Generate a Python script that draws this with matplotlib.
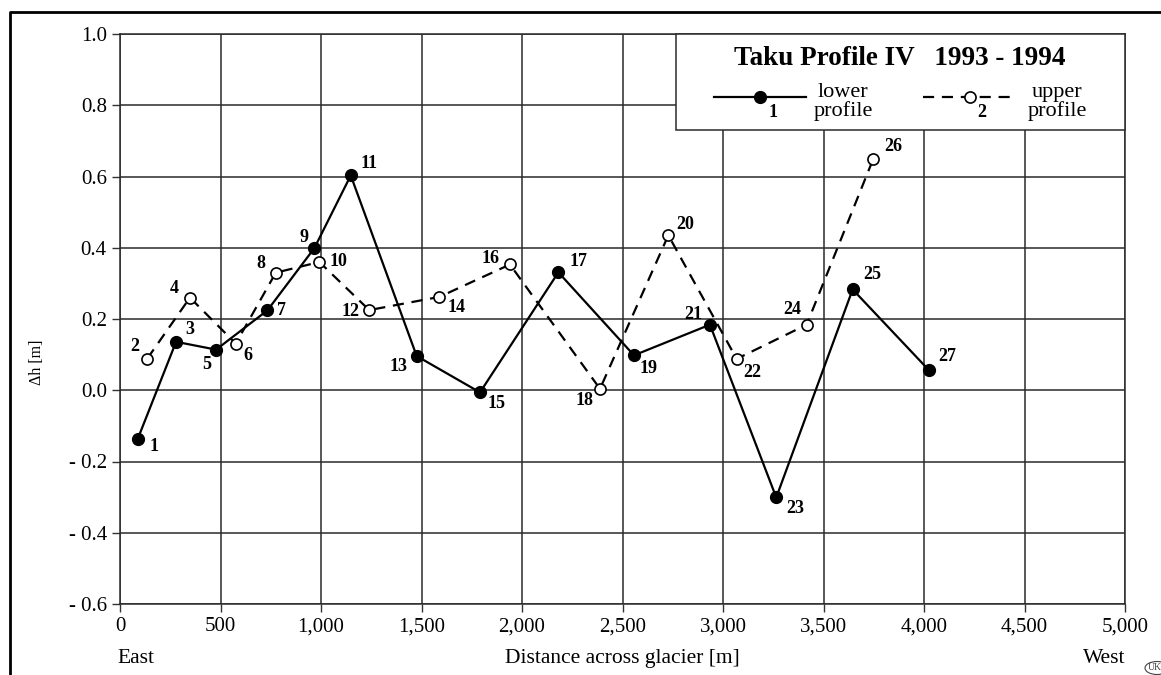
import matplotlib
matplotlib.use("Agg")
import matplotlib.pyplot as plt
from matplotlib.patches import Rectangle, Ellipse
from matplotlib.lines import Line2D
from matplotlib.ticker import FuncFormatter

plt.rcParams['font.family'] = ['Liberation Serif', 'DejaVu Serif']

# Stake positions across the glacier [m] and surface change [m]
lower_ids = [1, 3, 5, 7, 9, 11, 13, 15, 17, 19, 21, 23, 25, 27]
lower_x = [88, 279, 478, 733, 967, 1148, 1476, 1791, 2181, 2557, 2935, 3265, 3645, 4025]
lower_dh = [-0.137, 0.136, 0.114, 0.224, 0.399, 0.603, 0.096, -0.006, 0.331, 0.098,
            0.184, -0.301, 0.283, 0.056]

upper_ids = [2, 4, 6, 8, 10, 12, 14, 16, 18, 20, 22, 24, 26]
upper_x = [136, 348, 576, 775, 992, 1240, 1589, 1940, 2388, 2728, 3068, 3416, 3748]
upper_dh = [0.089, 0.260, 0.131, 0.330, 0.360, 0.225, 0.262, 0.353, 0.004, 0.435,
            0.088, 0.184, 0.650]

x_ticks = list(range(0, 5001, 500))
y_ticks = [-0.6, -0.4, -0.2, 0.0, 0.2, 0.4, 0.6, 0.8, 1.0]

# Label offsets (pixels, right / down) for each stake number
label_offsets = {
    1: (16, 7), 2: (-13, -12), 3: (14, -12), 4: (-16, -9), 5: (-9, 15),
    6: (12, 12), 7: (14, 0), 8: (-15, -9), 9: (-10, -11), 10: (19, 0),
    11: (18, -12), 12: (-19, 1), 13: (-18, 10), 14: (17, 11), 15: (17, 11),
    16: (-19, -6), 17: (20, -11), 18: (-15, 12), 19: (15, 13), 20: (17, -11),
    21: (-17, -10), 22: (16, 14), 23: (19, 11), 24: (-14, -15), 25: (20, -15),
    26: (20, -12), 27: (18, -14),
}

W, H = 1161, 675
fig = plt.figure(figsize=(W / 100, H / 100), dpi=100)


def fx(px):
    return px / W


def fy(py):
    return 1 - py / H


ax = fig.add_axes([fx(120), fy(604), (1125 - 120) / W, (604 - 34) / H])
ax.set_xlim(0, 5000)
ax.set_ylim(-0.6, 1.0)
ax.set_xticks(x_ticks)
ax.set_yticks(y_ticks)
ax.xaxis.set_major_formatter(FuncFormatter(lambda v, p: f"{int(v):,}"))
ax.yaxis.set_major_formatter(
    FuncFormatter(lambda v, p: f"- {abs(v):.1f}" if v < -1e-9 else f"{abs(v):.1f}"))
ax.tick_params(axis='both', direction='out', length=5.5, width=1.0, color='#333333',
               labelsize=15)
ax.tick_params(axis='x', pad=4)
ax.tick_params(axis='y', pad=4)
ax.grid(True, color='#2a2a2a', linewidth=1.1)
for s in ax.spines.values():
    s.set_color('#2a2a2a')
    s.set_linewidth(1.1)
ax.set_axisbelow(True)

pt = 0.72  # points per pixel at 100 dpi

ax.plot(upper_x, upper_dh, color='black', linewidth=1.6, linestyle=(0, (5, 3.5)),
        marker='o', markersize=8, markerfacecolor='white', markeredgecolor='black',
        markeredgewidth=1.2, zorder=3)
ax.plot(lower_x, lower_dh, color='black', linewidth=1.6, linestyle='-',
        marker='o', markersize=8.5, markerfacecolor='black', markeredgecolor='black',
        zorder=4)

for ids, xs, ys in ((lower_ids, lower_x, lower_dh), (upper_ids, upper_x, upper_dh)):
    for n, xv, yv in zip(ids, xs, ys):
        dx, dy = label_offsets[n]
        ax.annotate(str(n), xy=(xv, yv), xytext=(dx * pt, -dy * pt),
                    textcoords='offset points', ha='center', va='center',
                    fontsize=13, fontweight='bold', zorder=5)

fig.text(fx(37), fy(362), '\u0394h [m]', rotation=90, ha='center', va='center',
         fontsize=11.5)

fig.text(fx(136), fy(663), 'East', ha='center', va='baseline', fontsize=15.5)
fig.text(fx(622), fy(663), 'Distance across glacier [m]', ha='center', va='baseline',
         fontsize=15.5)
fig.text(fx(1104), fy(663), 'West', ha='center', va='baseline', fontsize=15.5)

# Legend panel
fig.patches.append(Rectangle((fx(676), fy(129.5)), fx(1125) - fx(676), fy(34) - fy(129.5),
                             transform=fig.transFigure, facecolor='white',
                             edgecolor='#2a2a2a', linewidth=1.1, zorder=10))
fig.text(fx(900), fy(65), 'Taku Profile IV   1993 - 1994', ha='center', va='baseline',
         fontsize=19.5, fontweight='bold', zorder=11)
fig.lines.append(Line2D([fx(714), fx(806)], [fy(97), fy(97)], transform=fig.transFigure,
                        color='black', linewidth=1.6, zorder=11))
fig.lines.append(Line2D([fx(760)], [fy(97)], transform=fig.transFigure, marker='o',
                        markersize=8.5, color='black', zorder=12))
fig.text(fx(773), fy(117), '1', ha='center', va='baseline', fontsize=13,
         fontweight='bold', zorder=11)
fig.text(fx(843), fy(97), 'lower', ha='center', va='baseline', fontsize=16, zorder=11)
fig.text(fx(843), fy(116), 'profile', ha='center', va='baseline', fontsize=16, zorder=11)
fig.lines.append(Line2D([fx(923), fx(1013)], [fy(97), fy(97)], transform=fig.transFigure,
                        color='black', linewidth=1.6, linestyle=(0, (5, 3.5)), zorder=11))
fig.lines.append(Line2D([fx(970)], [fy(97)], transform=fig.transFigure, marker='o',
                        markersize=8, markerfacecolor='white', markeredgecolor='black',
                        markeredgewidth=1.2, color='black', zorder=12))
fig.text(fx(982), fy(117), '2', ha='center', va='baseline', fontsize=13,
         fontweight='bold', zorder=11)
fig.text(fx(1057), fy(97), 'upper', ha='center', va='baseline', fontsize=16, zorder=11)
fig.text(fx(1057), fy(116), 'profile', ha='center', va='baseline', fontsize=16, zorder=11)

# Outer frame (continues past the right and bottom edges)
fig.lines.append(Line2D([fx(10), fx(10), fx(1170)], [fy(690), fy(12), fy(12)],
                        transform=fig.transFigure, color='black', linewidth=2.0))

# Small corner mark
fig.patches.append(Ellipse((fx(1157), fy(668)), fx(24), fy(0) - fy(13),
                           transform=fig.transFigure, facecolor='none',
                           edgecolor='#444444', linewidth=0.8))
fig.text(fx(1148), fy(668), 'UK', ha='left', va='center', fontsize=7, color='#444444')

fig.savefig('out.png', dpi=100)
